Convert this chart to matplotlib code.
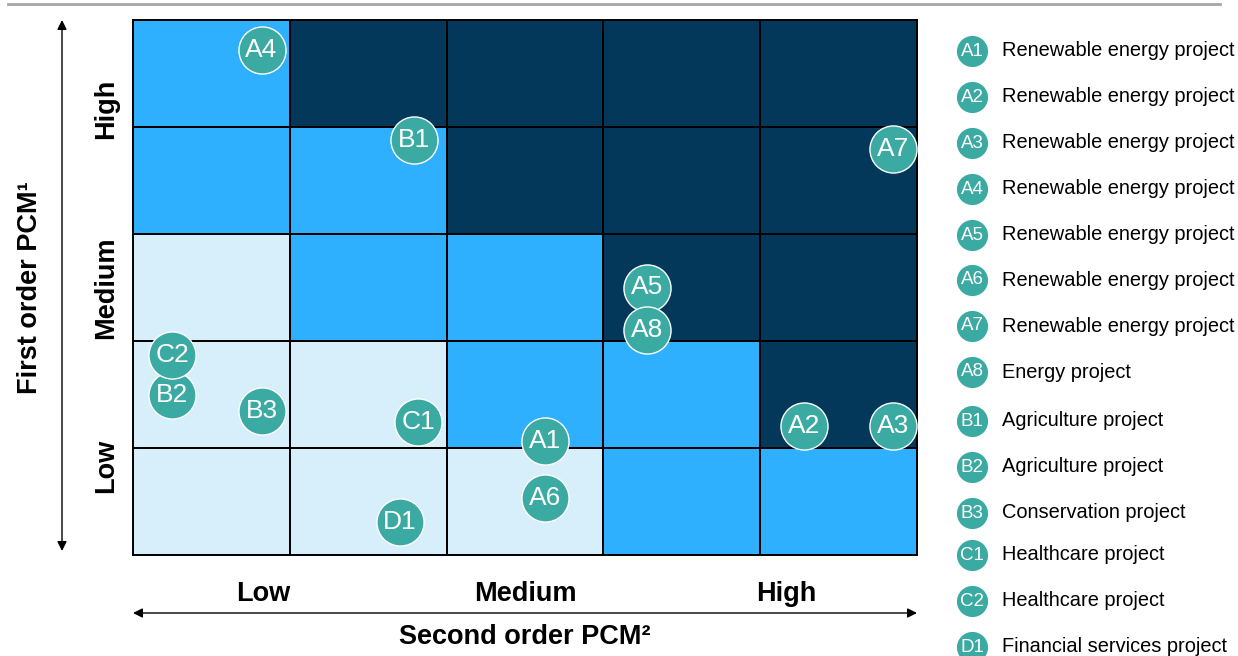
import numpy as np
import matplotlib.pyplot as plt
from matplotlib.colors import ListedColormap

plt.rcParams['font.family'] = ['Liberation Sans', 'DejaVu Sans']

# cell shading, top row first: 0 = light, 1 = bright, 2 = dark
levels = [
    [1, 2, 2, 2, 2],
    [1, 1, 2, 2, 2],
    [0, 1, 1, 2, 2],
    [0, 0, 1, 1, 2],
    [0, 0, 0, 1, 1],
]
cell_colors = ["#d7eefb", "#2eb0ff", "#03385a"]

tick_labels = ["Low", "Medium", "High"]

codes = ["A1", "A2", "A3", "A4", "A5", "A6", "A7", "A8",
         "B1", "B2", "B3", "C1", "C2", "D1"]
second_order = [2.63, 4.28, 4.85, 0.82, 3.28, 2.63, 4.85, 3.28,
                1.79, 0.25, 0.82, 1.82, 0.25, 1.70]
first_order = [1.07, 1.21, 1.21, 4.72, 2.50, 0.53, 3.79, 2.10,
               3.88, 1.50, 1.35, 1.24, 1.87, 0.31]
descriptions = ["Renewable energy project"] * 7 + [
    "Energy project", "Agriculture project", "Agriculture project",
    "Conservation project", "Healthcare project", "Healthcare project",
    "Financial services project"]

TEAL = "#3aaaa2"
W, H = 1238, 656

fig = plt.figure(figsize=(W / 100, H / 100), dpi=100)

# overlay in pixel units for arrows, labels and the key
ov = fig.add_axes([0, 0, 1, 1])
ov.set_xlim(0, W)
ov.set_ylim(H, 0)
ov.axis("off")

ax = fig.add_axes([133 / W, (H - 555) / H, 784 / W, 535 / H])
grid = np.array(levels)[::-1]
ax.pcolormesh(np.arange(6), np.arange(6), grid, cmap=ListedColormap(cell_colors),
              vmin=-0.5, vmax=2.5, edgecolors="black", linewidth=1.4)
ax.set_xlim(0, 5)
ax.set_ylim(0, 5)
ax.set_xticks([])
ax.set_yticks([])
for s in ax.spines.values():
    s.set_linewidth(1.4)

ax.scatter(second_order, first_order, s=1150, color=TEAL, edgecolors="white",
           linewidths=1.0, zorder=3, clip_on=False)
for c, x, y in zip(codes, second_order, first_order):
    ax.text(x, y, c, color="white", fontsize=19, ha="center", va="center",
            zorder=4)

# top rule
ov.plot([8, 1220], [4, 4], color="#a6a6a6", lw=2)

# axis arrows
ov.annotate("", xy=(62, 20), xytext=(62, 551),
            arrowprops=dict(arrowstyle="<|-|>", color="black", lw=1,
                            mutation_scale=14, shrinkA=0, shrinkB=0))
ov.annotate("", xy=(133, 613), xytext=(917, 613),
            arrowprops=dict(arrowstyle="<|-|>", color="black", lw=1,
                            mutation_scale=14, shrinkA=0, shrinkB=0))

ov.text(30, 288, "First order PCM\u00b9", rotation=90, ha="center", va="center",
        fontsize=19.5, fontweight="bold")
ov.text(525, 637, "Second order PCM\u00b2", ha="center", va="center",
        fontsize=19.5, fontweight="bold")

for i, lab in enumerate(tick_labels):
    ax.text((2 * i + 1) * 5 / 6, -0.36, lab, ha="center", va="center",
            fontsize=19.5, fontweight="bold", transform=ax.transData)
    ax.text(-0.17, (2 * i + 1) * 5 / 6, lab, ha="center", va="center",
            rotation=90, fontsize=19.5, fontweight="bold")

# key on the right
key_y = [51, 97, 143, 189, 235, 280, 326, 372, 421, 467, 513, 555, 601, 647]
for c, d, y in zip(codes, descriptions, key_y):
    ov.scatter([972], [y], s=540, color=TEAL, edgecolors="white", linewidths=0.8,
               zorder=3, clip_on=False)
    ov.text(972, y, c, color="white", fontsize=13.5, ha="center", va="center",
            zorder=4)
    ov.text(1002, y, d, fontsize=14.4, ha="left", va="center")

fig.savefig("out.png", dpi=100)
